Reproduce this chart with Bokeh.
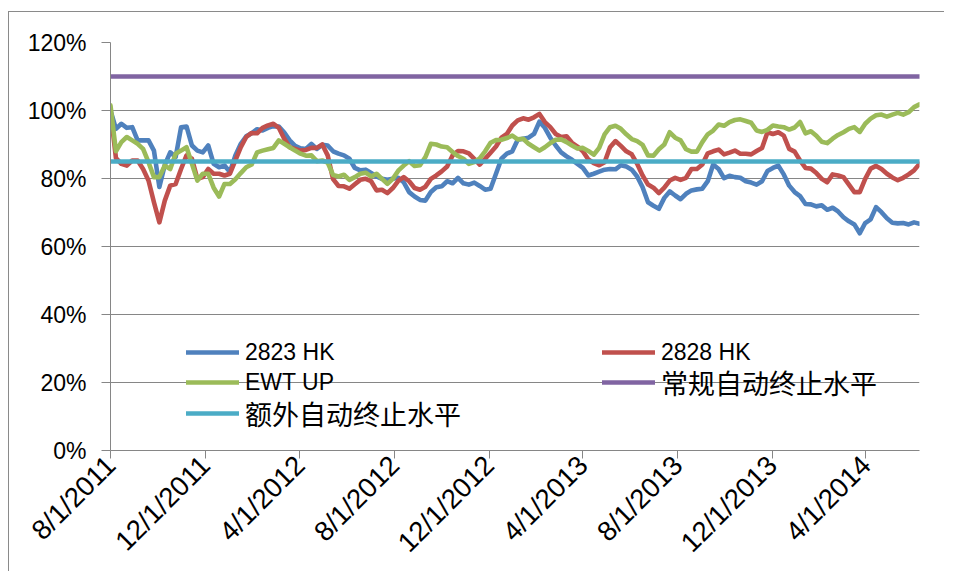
import math
import pandas as pd
from bokeh.plotting import figure
from bokeh.models import (Range1d, FixedTicker, PrintfTickFormatter, Legend,
                          LegendItem, InlineStyleSheet)
from bokeh.embed import file_html
from bokeh.resources import INLINE

# ---------------- data ----------------
start_date = "2011-08-01"
n_points = 150
dates = pd.date_range(start_date, periods=n_points, freq="7D")

hk2823 = [100.0, 94.6, 96.1, 94.9, 95.1, 91.2, 91.2, 91.2, 88.2, 77.5,
          84.0, 87.7, 86.3, 95.1, 95.3, 89.7, 88.2, 87.7, 89.7, 84.3,
          83.3, 83.8, 81.9, 86.8, 90.2, 92.4, 93.3, 94.5, 94.1, 94.9,
          95.4, 95.3, 93.5, 91.2, 89.6, 88.9, 88.7, 90.2, 88.7, 89.9,
          89.7, 88.0, 87.3, 86.8, 85.8, 83.1, 82.4, 82.6, 81.6, 80.6,
          79.9, 79.6, 79.9, 80.2, 78.9, 76.0, 74.7, 73.7, 73.5, 76.0,
          77.4, 77.7, 79.2, 78.6, 80.2, 78.6, 78.2, 78.8, 77.8, 76.7,
          77.0, 81.4, 85.8, 87.3, 88.0, 91.4, 91.7, 92.0, 93.1, 96.7,
          94.9, 92.0, 89.7, 87.7, 86.5, 85.5, 84.3, 83.1, 80.9, 81.4,
          82.0, 82.6, 82.8, 82.7, 83.9, 83.5, 82.6, 80.6, 77.4, 73.0,
          72.0, 71.1, 74.3, 76.2, 75.0, 73.9, 75.5, 76.5, 76.8, 77.0,
          79.2, 84.1, 82.8, 80.1, 80.8, 80.4, 80.2, 79.2, 78.8, 78.2,
          79.2, 82.2, 83.1, 83.8, 81.2, 77.9, 76.0, 74.8, 72.5, 72.4,
          71.8, 72.1, 70.8, 71.4, 70.3, 68.6, 67.4, 66.5, 63.9, 66.9,
          68.0, 71.6, 70.1, 68.3, 67.0, 66.8, 66.9, 66.5, 67.1, 66.7]

hk2828 = [100.0, 86.0, 84.3, 83.8, 85.3, 85.3, 82.8, 79.4, 73.0, 67.1,
          73.5, 77.9, 78.4, 82.8, 86.8, 85.8, 79.9, 80.4, 82.8, 81.4,
          81.4, 80.9, 81.4, 85.3, 89.2, 92.2, 93.4, 93.3, 94.9, 95.6,
          96.1, 94.9, 91.7, 89.2, 88.7, 88.2, 88.4, 89.0, 89.0, 90.0,
          86.8, 79.8, 77.8, 77.7, 77.0, 78.3, 79.6, 79.9, 79.2, 76.5,
          76.7, 75.7, 77.2, 79.3, 80.4, 79.2, 77.2, 76.7, 77.6, 79.9,
          80.9, 82.1, 83.5, 86.8, 88.1, 88.0, 87.4, 85.8, 84.1, 85.8,
          87.6, 89.4, 92.0, 93.1, 95.6, 97.1, 97.7, 97.3, 98.0, 99.0,
          96.6, 95.1, 93.1, 92.2, 92.4, 90.5, 89.4, 88.0, 85.6, 84.5,
          83.9, 84.8, 89.2, 91.0, 89.6, 88.0, 87.1, 84.3, 80.9, 78.2,
          77.3, 75.7, 77.3, 79.4, 80.2, 79.6, 80.2, 82.8, 82.8, 84.1,
          87.4, 88.0, 88.5, 87.1, 87.6, 88.2, 87.3, 87.3, 87.1, 88.1,
          89.0, 93.6, 93.1, 93.6, 92.6, 88.7, 87.9, 85.3, 83.1, 82.9,
          81.6, 79.9, 78.9, 81.2, 80.9, 80.4, 78.2, 76.0, 76.0, 79.9,
          82.9, 83.7, 82.8, 81.4, 80.3, 79.5, 80.2, 81.2, 82.4, 84.3]

ewt_up = [101.5, 88.0, 90.7, 92.2, 91.2, 90.2, 88.7, 84.8, 80.4, 80.4,
          83.8, 82.8, 87.3, 88.2, 89.2, 84.3, 79.4, 81.4, 81.4, 77.3,
          74.7, 78.4, 78.4, 79.8, 81.6, 83.3, 84.1, 87.7, 88.2, 88.6,
          89.0, 91.2, 90.2, 89.2, 88.2, 87.3, 86.7, 86.8, 85.1, 85.3,
          84.7, 81.0, 80.6, 81.1, 79.6, 80.4, 81.4, 81.7, 80.6, 81.4,
          79.9, 78.4, 79.9, 82.3, 83.8, 85.1, 83.7, 83.9, 86.3, 90.2,
          90.0, 89.4, 89.2, 87.8, 86.6, 85.8, 84.3, 84.8, 85.9, 88.0,
          90.5, 91.3, 91.4, 91.9, 92.6, 91.5, 91.7, 90.2, 89.2, 88.2,
          89.2, 90.4, 91.4, 91.5, 90.7, 89.7, 88.8, 89.0, 88.1, 87.0,
          89.0, 93.0, 95.1, 95.5, 94.6, 93.0, 91.6, 91.0, 89.9, 86.8,
          86.7, 88.6, 90.0, 93.6, 92.0, 91.2, 88.6, 87.9, 87.9, 90.7,
          93.0, 94.1, 95.9, 95.5, 96.6, 97.2, 97.4, 96.9, 96.4, 94.1,
          93.7, 94.3, 95.6, 95.3, 95.1, 94.4, 95.0, 96.6, 93.3, 93.9,
          92.6, 90.8, 90.4, 91.7, 92.8, 93.6, 94.6, 95.1, 93.7, 96.1,
          97.6, 98.6, 98.8, 98.2, 98.8, 99.3, 98.8, 99.5, 101.0, 101.8]

regular_level = 110   # 常规自动终止水平
extra_level = 85      # 额外自动终止水平

series_names = ["2823 HK", "2828 HK", "EWT UP", "常规自动终止水平", "额外自动终止水平"]
series_colors = ["#4F81BD", "#C0504D", "#9BBB59", "#8064A2", "#4BACC6"]

x_tick_labels = ["8/1/2011", "12/1/2011", "4/1/2012", "8/1/2012", "12/1/2012",
                 "4/1/2013", "8/1/2013", "12/1/2013", "4/1/2014"]
y_ticks = [0, 20, 40, 60, 80, 100, 120]

# ---------------- figure ----------------
FONT = "Liberation Sans, 'Noto Sans CJK SC'"
GRID = "#868686"

p = figure(width=936, height=560, x_axis_type="datetime",
           output_backend="svg", toolbar_location=None,
           x_range=Range1d(dates[0], dates[-1]), y_range=Range1d(0, 120),
           min_border_left=101, min_border_right=26, min_border_top=30,
           min_border_bottom=122)
p.background_fill_color = "white"
p.border_fill_color = "white"
p.outline_line_color = None
p.stylesheets = [InlineStyleSheet(css=":host { margin-top: 11px; margin-left: 8px; border-top: 1.5px solid #8a8a8a; border-left: 1.5px solid #8a8a8a; }")]

level_regular = [regular_level] * len(dates)
level_extra = [extra_level] * len(dates)
ys = [hk2823, hk2828, ewt_up, level_regular, level_extra]
renderers = []
for y, c in zip(ys, series_colors):
    r = p.line(dates, y, line_color=c, line_width=4.6,
               line_join="round", line_cap="round")
    renderers.append(r)

# y axis
p.yaxis.ticker = FixedTicker(ticks=y_ticks)
p.yaxis.formatter = PrintfTickFormatter(format="%d%%")
p.ygrid.ticker = FixedTicker(ticks=y_ticks)
p.ygrid.grid_line_color = GRID
p.xgrid.grid_line_color = None

# x axis
tick_dates = pd.to_datetime(x_tick_labels, format="%m/%d/%Y")
tick_ms = [int(d.value // 10**6) for d in tick_dates]
p.xaxis.ticker = FixedTicker(ticks=tick_ms)
p.xaxis.major_label_overrides = {ms: lab for ms, lab in zip(tick_ms, x_tick_labels)}
p.xaxis.major_label_orientation = math.pi / 4

for ax in (p.xaxis, p.yaxis):
    ax.axis_line_color = GRID
    ax.major_tick_line_color = GRID
    ax.minor_tick_line_color = None
    ax.major_tick_in = 0
    ax.major_label_text_font = FONT
    ax.major_label_text_color = "black"
p.yaxis.major_label_text_font_size = "23px"
p.xaxis.major_label_text_font_size = "27.5px"
p.yaxis.major_tick_out = 9
p.yaxis.major_label_standoff = 15
p.xaxis.major_tick_out = 8
p.xaxis.major_label_standoff = 2

# legends (three blocks so that the CJK labels can be larger)
common = dict(orientation="horizontal", label_standoff=6, spacing=0,
              padding=0, margin=0, border_line_color=None,
              background_fill_alpha=0, label_text_font=FONT,
              label_text_color="black", glyph_width=53)
legend_a = Legend(items=[LegendItem(label=series_names[i], renderers=[renderers[i]]) for i in range(3)],
                  ncols=2, location=(76, 53), glyph_height=30, label_height=30,
                  label_width=357, label_text_font_size="23px", **common)
legend_b = Legend(items=[LegendItem(label=series_names[3], renderers=[renderers[3]])],
                  location=(492, 48), glyph_height=40, label_height=40,
                  label_text_font_size="27px", **common)
legend_c = Legend(items=[LegendItem(label=series_names[4], renderers=[renderers[4]])],
                  location=(76, 17), glyph_height=40, label_height=40,
                  label_text_font_size="27px", **common)
for lg in (legend_a, legend_b, legend_c):
    p.add_layout(lg)

open("out.html", "w").write(file_html(p, INLINE))
